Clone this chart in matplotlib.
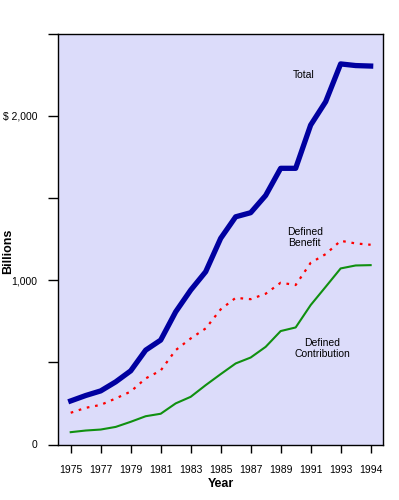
import numpy as np
import matplotlib
matplotlib.use("Agg")
import matplotlib.pyplot as plt

plt.rcParams['font.family'] = ['Liberation Sans', 'DejaVu Sans']

# 21 equally spaced periods, labelled every second one
tick_labels = ['1975', '1977', '1979', '1981', '1983', '1985',
               '1987', '1989', '1991', '1993', '1994']

total = [265, 298, 326, 381, 448, 574, 635, 807, 939, 1051, 1254,
         1385, 1410, 1515, 1680, 1680, 1943, 2085, 2315, 2305, 2302]
defined_benefit = [193, 223, 241, 280, 322, 402, 450, 574, 645, 706, 822,
                   892, 884, 917, 984, 970, 1105, 1158, 1239, 1223, 1215]
defined_contribution = [75, 85, 91, 107, 138, 172, 187, 250, 290, 361, 428,
                        493, 529, 594, 690, 712, 848, 959, 1071, 1089, 1091]

x = np.arange(len(total))

fig = plt.figure(figsize=(3.99, 5.0), dpi=100)
ax = fig.add_axes([0.146, 0.111, 0.8145, 0.822])
ax.set_facecolor('#dcdcfa')

ax.plot(x, total, color='#0000a0', linewidth=3.8, solid_joinstyle='round')
ax.plot(x, defined_benefit, color='#ff0000', linewidth=1.6,
        linestyle=(0, (1.2, 2.6)))
ax.plot(x, defined_contribution, color='#109010', linewidth=1.5)

ax.set_xlim(-0.83, 20.84)
ax.set_ylim(0, 2500)

ax.set_xticks(np.arange(0, 21, 2))
ax.set_xticklabels(tick_labels)
ax.set_yticks(np.arange(0, 2501, 500))
ax.set_yticklabels(['0', '', '1,000', '', '$ 2,000', ''])

ax.tick_params(axis='both', direction='out', length=6, width=1,
               labelsize=7.5, pad=9)
ax.tick_params(axis='y', length=7, pad=8)
for s in ax.spines.values():
    s.set_linewidth(1)

ax.text(15.55, 2250, 'Total', fontsize=7.5, ha='center', va='center')
ax.text(15.6, 1260, 'Defined\nBenefit', fontsize=7.5, ha='center',
        va='center', linespacing=1.2)
ax.text(16.75, 585, 'Defined\nContribution', fontsize=7.5, ha='center',
        va='center', linespacing=1.2)

ax.set_xlabel('Year', fontsize=9, fontweight='bold', labelpad=2)
ax.set_ylabel('Billions', fontsize=9, fontweight='bold')
ax.yaxis.set_label_coords(-0.135, 0.47)

plt.savefig('out.png', dpi=100)
